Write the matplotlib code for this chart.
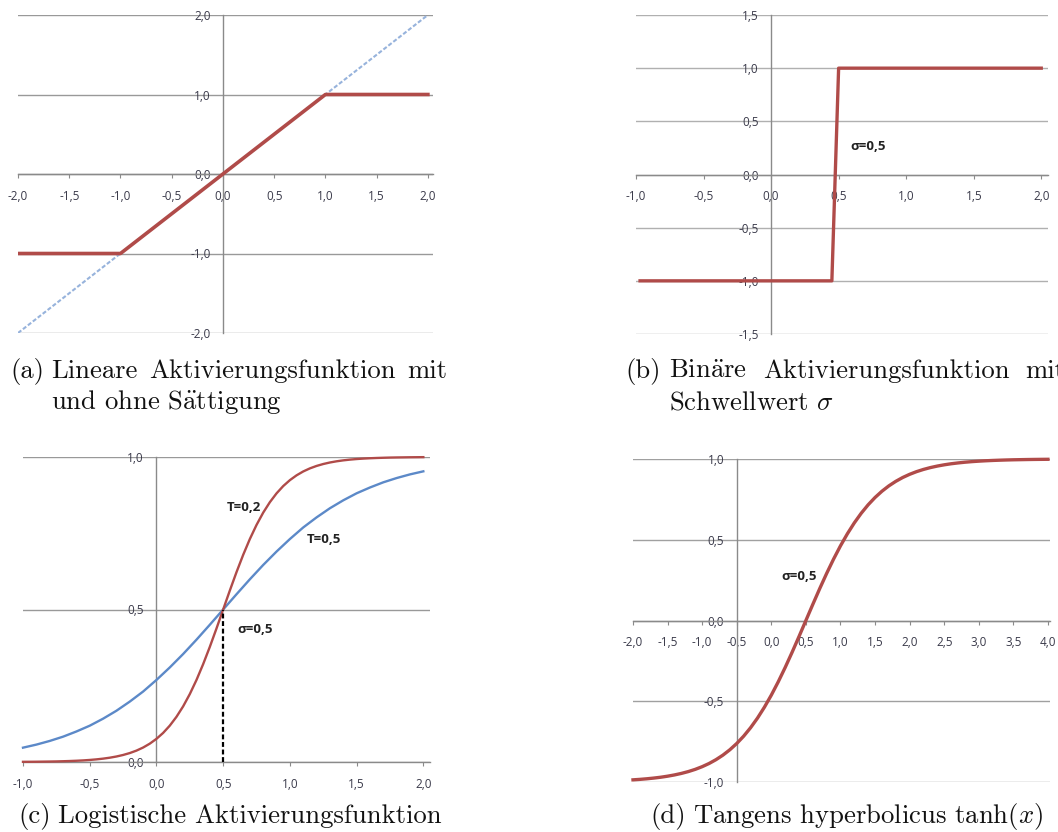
import numpy as np
import matplotlib.pyplot as plt

plt.rcParams['font.family'] = ['Open Sans', 'DejaVu Sans']
plt.rcParams['mathtext.fontset'] = 'cm'

# (a) linear activation, with and without saturation
lin_x = [-2.0, 2.0]
lin_y = [-2.0, 2.0]
sat_x = [-2.0, -1.0, 1.0, 2.0]
sat_y = [-1.0, -1.0, 1.0, 1.0]

# (b) binary step, threshold 0.5
step_x = [-0.97, 0.45, 0.5, 2.0]
step_y = [-1.0, -1.0, 1.0, 1.0]

# (c) logistic curves (T=0,2 read at 0.05 steps, T=0,5 at 0.1 steps)
t02_x = np.linspace(-1.0, 2.0, 61)
t02_y = [0.0006, 0.0007, 0.0009, 0.0012, 0.0015, 0.0019, 0.0025, 0.0032, 0.0041, 0.0052,
         0.0067, 0.0086, 0.0110, 0.0141, 0.0180, 0.0230, 0.0293, 0.0373, 0.0474, 0.0601,
         0.0759, 0.0953, 0.1192, 0.1481, 0.1824, 0.2227, 0.2689, 0.3208, 0.3775, 0.4378,
         0.5000,
         0.5622, 0.6225, 0.6792, 0.7311, 0.7773, 0.8176, 0.8519, 0.8808, 0.9047, 0.9241,
         0.9399, 0.9526, 0.9627, 0.9707, 0.9770, 0.9820, 0.9859, 0.9890, 0.9914, 0.9933,
         0.9948, 0.9959, 0.9968, 0.9975, 0.9981, 0.9985, 0.9988, 0.9991, 0.9993, 0.9995]
t05_x = np.linspace(-1.0, 2.0, 31)
t05_y = [0.047, 0.057, 0.069, 0.083, 0.100, 0.119, 0.142, 0.168, 0.198, 0.231, 0.269,
         0.310, 0.354, 0.401, 0.450, 0.500, 0.550, 0.599, 0.646, 0.690, 0.731,
         0.769, 0.802, 0.832, 0.858, 0.881, 0.900, 0.917, 0.931, 0.943, 0.953]
sigma_x = [0.5, 0.5]
sigma_y = [0.0, 0.5]

# (d) tanh, read at 0.1 steps
th_x = np.linspace(-2.0, 4.0, 61)
th_y = [-0.9866, -0.9837, -0.9801, -0.9757, -0.9705, -0.9640, -0.9562, -0.9468, -0.9354,
        -0.9217, -0.9051, -0.8854, -0.8617, -0.8337, -0.8005, -0.7616, -0.7163, -0.6640,
        -0.6044, -0.5370, -0.4621, -0.3799, -0.2913, -0.1974, -0.0997,
        0.0,
        0.0997, 0.1974, 0.2913, 0.3799, 0.4621, 0.5370, 0.6044, 0.6640, 0.7163, 0.7616,
        0.8005, 0.8337, 0.8617, 0.8854, 0.9051, 0.9217, 0.9354, 0.9468, 0.9562, 0.9640,
        0.9705, 0.9757, 0.9801, 0.9837, 0.9866, 0.9890, 0.9910, 0.9926, 0.9940, 0.9951,
        0.9959, 0.9967, 0.9973, 0.9978, 0.9982]

RED = '#B04B49'
BLUE = '#5C89C8'
LIGHTBLUE = '#97B3DC'
AXIS = '#8a8a8a'
LABEL = '#3a3a4a'

W, H = 1058, 832
fig = plt.figure(figsize=(W / 100, H / 100), dpi=100)


def px_axes(x0, x1, y0, y1):
    return fig.add_axes([x0 / W, 1 - y1 / H, (x1 - x0) / W, (y1 - y0) / H])


def fmt(v):
    return f'{v:.1f}'.replace('.', ',')


def style(ax, xlim, ylim, xticks, yticks, ycross=0.0, grid_color='#999999'):
    ax.set_xlim(xlim)
    ax.set_ylim(ylim)
    ax.patch.set_visible(False)
    for s in ['top', 'right']:
        ax.spines[s].set_visible(False)
    ax.spines['left'].set_position(('data', ycross))
    ax.spines['bottom'].set_position(('data', 0))
    for s in ['left', 'bottom']:
        ax.spines[s].set_color(AXIS)
        ax.spines[s].set_linewidth(1.0)
    ax.set_xticks(xticks)
    ax.set_xticklabels([fmt(v) for v in xticks])
    ax.set_yticks(yticks)
    ax.set_yticklabels([fmt(v) for v in yticks])
    ax.tick_params(axis='x', direction='out', length=3, width=0.8, color=AXIS,
                   pad=8.5, labelsize=8.5, labelcolor=LABEL)
    ax.tick_params(axis='y', length=0, pad=9, labelsize=8.5, labelcolor=LABEL)
    ax.yaxis.grid(True, color=grid_color, lw=1.0)
    ax.set_axisbelow(True)


def note(ax, x, y, s):
    ax.text(x, y, s, fontsize=9.5, fontweight='bold', color='#222222',
            ha='left', va='center', zorder=5)


# (a)
ax = px_axes(18, 433, 15, 333)
style(ax, (-2, 2.05), (-2, 2), np.arange(-2, 2.01, 0.5), [-2, -1, 0, 1, 2])
ax.plot(lin_x, lin_y, color=LIGHTBLUE, lw=1.5, ls=(0, (2, 1)), zorder=3)
ax.plot(sat_x, sat_y, color=RED, lw=2.6, zorder=4)

# (b)
ax = px_axes(636, 1048, 15, 334)
style(ax, (-1, 2.05), (-1.5, 1.5), np.arange(-1, 2.01, 0.5),
      [-1.5, -1, -0.5, 0, 0.5, 1, 1.5], grid_color='#b0b0b0')
ax.plot(step_x, step_y, color=RED, lw=2.4, zorder=4)
note(ax, 0.585, 0.26, 'σ=0,5')

# (c)
ax = px_axes(23, 430, 457, 762)
style(ax, (-1, 2.05), (0, 1), np.arange(-1, 2.01, 0.5), [0, 0.5, 1])
ax.plot(t05_x, t05_y, color=BLUE, lw=1.7, zorder=3, clip_on=False)
ax.plot(t02_x, t02_y, color=RED, lw=1.7, zorder=4, clip_on=False)
ax.plot(sigma_x, sigma_y, color='black', lw=1.6, ls=(0, (2.2, 1.2)), zorder=5)
note(ax, 0.525, 0.836, 'T=0,2')
note(ax, 1.13, 0.731, 'T=0,5')
note(ax, 0.61, 0.433, 'σ=0,5')

# (d)
ax = px_axes(633, 1050, 459, 782)
style(ax, (-2, 4.03), (-1, 1), np.arange(-2, 4.01, 0.5), [-1, -0.5, 0, 0.5, 1],
      ycross=-0.5, grid_color='#a0a0a0')
ax.plot(th_x, th_y, color=RED, lw=2.4, zorder=4, clip_on=False)
note(ax, 0.15, 0.27, 'σ=0,5')


# captions
def cap(x, y, s):
    fig.text(x / W, 1 - y / H, s, fontfamily='cmr10', fontsize=19.2,
             ha='left', va='baseline', color='#111111')


cap(10, 378, '(a)')
cap(51, 378, 'Lineare')
cap(149, 378, 'Aktivierungsfunktion')
cap(407, 378, 'mit')
cap(51, 409, r'und ohne S$\ddot{\mathrm{a}}$ttigung')

cap(625, 378, '(b)')
cap(669, 378, r'Bin$\ddot{\mathrm{a}}$re')
cap(763, 378, 'Aktivierungsfunktion')
cap(1025, 378, 'mit')
cap(669, 409, r'Schwellwert $\sigma$')

cap(18, 823, '(c)')
cap(58, 823, 'Logistische Aktivierungsfunktion')

cap(650, 823, '(d)')
cap(693, 823, r'Tangens hyperbolicus tanh$(x)$')

fig.savefig('out.png', dpi=100)
